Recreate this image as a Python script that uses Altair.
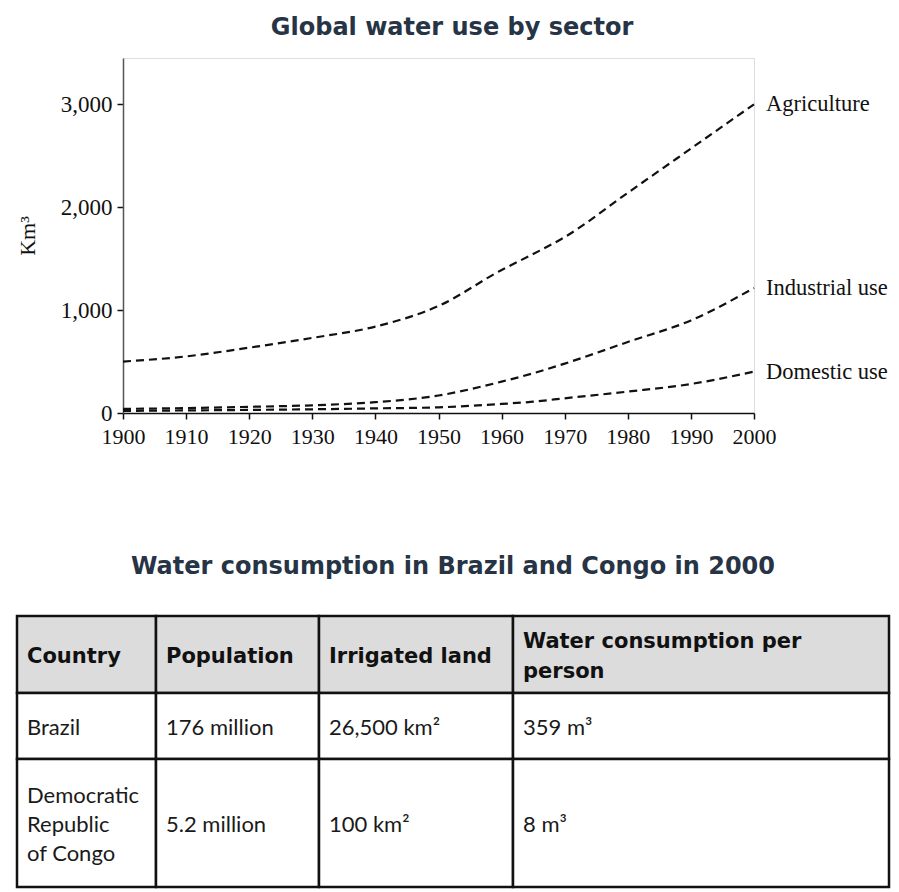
import altair as alt
import pandas as pd

# ---------------- data ----------------
years = [1900, 1910, 1920, 1930, 1940, 1950, 1960, 1965, 1970, 1980, 1990, 2000]
agriculture = [500, 550, 635, 730, 840, 1040, 1390, 1545, 1710, 2140, 2570, 3000]
industrial = [40, 48, 60, 75, 105, 170, 305, 386, 480, 690, 900, 1215]
domestic = [20, 25, 30, 36, 45, 55, 88, 110, 143, 208, 282, 402]
sectors = ["Agriculture", "Industrial use", "Domestic use"]
x_ticks = [1900, 1910, 1920, 1930, 1940, 1950, 1960, 1970, 1980, 1990, 2000]
y_ticks = [0, 1000, 2000, 3000]

table_headers = ["Country", "Population", "Irrigated land", "Water consumption per\nperson"]
table_rows = [
    ["Brazil", "176 million", "26,500 km²", "359 m³"],
    ["Democratic\nRepublic\nof Congo", "5.2 million", "100 km²", "8 m³"],
]

# ---------------- layout constants ----------------
col_edges = [0, 139, 302, 496, 872]
row_edges = [0, 77, 143, 271]
HEADER_LH = 30
BODY_LH = 29
TITLE_COLOR = "#263445"
TITLE_FONT = "DejaVu Sans"
SERIF = "Liberation Serif"

# ---------------- line chart ----------------
series = {"Agriculture": agriculture, "Industrial use": industrial, "Domestic use": domestic}
recs = []
for s in sectors:
    for yr, v in zip(years, series[s]):
        recs.append({"year": yr, "value": v, "sector": s})
df = pd.DataFrame(recs)
df_last = df[df["year"] == years[-1]]

x_enc = alt.X(
    "year:Q",
    scale=alt.Scale(domain=[1900, 2000], nice=False, zero=False),
    axis=alt.Axis(values=x_ticks, format="d", title=None, grid=False,
                  labelFont=SERIF, labelFontSize=22, labelColor="#111",
                  labelFlush=False, labelOverlap=False,
                  tickSize=6, labelPadding=7, domainColor="#111",
                  tickColor="#111", domainWidth=1.5, tickWidth=1.5),
)
y_enc = alt.Y(
    "value:Q",
    scale=alt.Scale(domain=[0, 3450], nice=False),
    axis=alt.Axis(values=y_ticks, format=",.0f", title="Km³", grid=False,
                  labelFont=SERIF, labelFontSize=23, labelColor="#111",
                  labelFlush=False, labelOverlap=False,
                  tickSize=6, labelPadding=5, domainColor="#555",
                  tickColor="#111", domainWidth=1.5, tickWidth=1.5,
                  titleFont=SERIF, titleFontSize=22, titleFontWeight="normal",
                  titleColor="#111", titlePadding=21),
)

lines = alt.Chart(df).mark_line(
    color="#111", strokeDash=[8, 5], strokeWidth=2.2, interpolate="monotone"
).encode(x=x_enc, y=y_enc, detail="sector:N")

line_labels = alt.Chart(df_last).mark_text(
    align="left", baseline="middle", dx=12, font=SERIF, fontSize=22.5, color="#111"
).encode(x="year:Q", y="value:Q", text="sector:N")

chart1 = alt.layer(lines, line_labels).properties(
    width=631, height=355,
    title=alt.TitleParams("Global water use by sector", font=TITLE_FONT, fontSize=24,
                          fontWeight="bold", color=TITLE_COLOR, anchor="middle",
                          frame="bounds", offset=18),
)

# ---------------- table ----------------
cells = []
texts = []
all_rows = [table_headers] + table_rows
for r, row in enumerate(all_rows):
    lh = HEADER_LH if r == 0 else BODY_LH
    for c, val in enumerate(row):
        cells.append({
            "x": col_edges[c], "x2": col_edges[c + 1],
            "y": row_edges[r], "y2": row_edges[r + 1],
            "fill": "#dcdcdc" if r == 0 else "#ffffff",
        })
        nlines = val.count("\n") + 1
        texts.append({
            "x": col_edges[c] + 10,
            "y": (row_edges[r] + row_edges[r + 1]) / 2 - (nlines - 1) * lh / 2,
            "text": val, "header": r == 0,
        })
cells_df = pd.DataFrame(cells)
texts_df = pd.DataFrame(texts)

tx = alt.Scale(domain=[0, 872], range=[-106, 766])
ty = alt.Scale(domain=[0, 271], range=[0, 271])

rects = alt.Chart(cells_df).mark_rect(stroke="#111", strokeWidth=2.5).encode(
    x=alt.X("x:Q", scale=tx, axis=None),
    x2="x2:Q",
    y=alt.Y("y:Q", scale=ty, axis=None),
    y2="y2:Q",
    fill=alt.Fill("fill:N", scale=None),
)

header_text = alt.Chart(texts_df[texts_df["header"]]).mark_text(
    align="left", baseline="middle", dy=2, font="DejaVu Sans", fontWeight="bold", fontSize=21,
    lineBreak="\n", lineHeight=HEADER_LH, color="#111"
).encode(x=alt.X("x:Q", scale=tx, axis=None), y=alt.Y("y:Q", scale=ty, axis=None), text="text:N")

body_text = alt.Chart(texts_df[~texts_df["header"]]).mark_text(
    align="left", baseline="middle", dy=2, font="Lato", fontSize=22,
    lineBreak="\n", lineHeight=BODY_LH, color="#1a1a1a"
).encode(x=alt.X("x:Q", scale=tx, axis=None), y=alt.Y("y:Q", scale=ty, axis=None), text="text:N")

chart2 = alt.layer(rects, header_text, body_text).properties(
    width=631, height=271,
    title=alt.TitleParams("Water consumption in Brazil and Congo in 2000", font=TITLE_FONT,
                          fontSize=24, fontWeight="bold", color=TITLE_COLOR, anchor="middle",
                          frame="bounds", offset=36),
)

chart = alt.vconcat(chart1, chart2, spacing=203, bounds="flush").properties(
    padding={"left": 7, "top": 7, "right": 0, "bottom": 0}
).configure_view(stroke=None).configure(background="white")

chart.save("out.html", embed_options={"renderer": "svg", "actions": False})
